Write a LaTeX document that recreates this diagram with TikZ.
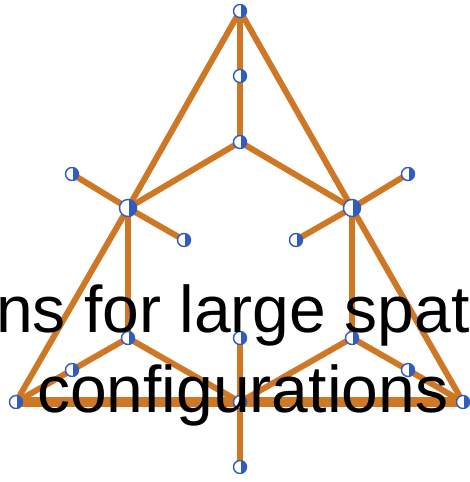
\documentclass[tikz,border=0pt]{standalone}
\usepackage{fontspec}
\setmainfont{Liberation Sans}
\definecolor{edgeor}{RGB}{206,120,38}
\definecolor{nodebl}{RGB}{48,92,190}
\begin{document}
\begin{tikzpicture}[x=1pt,y=-1pt,
  edge/.style={draw=edgeor,line width=6pt},
  base/.style={draw=edgeor,line width=10pt},
  vtx/.style={circle,draw=nodebl,line width=1.4pt,fill=white,inner sep=0pt,minimum size=13pt,
    path picture={\fill[nodebl] ([xshift=1.2pt]path picture bounding box.north) rectangle (path picture bounding box.south east);}},
  hub/.style={vtx,minimum size=17pt},
  lbl/.style={font=\fontsize{66}{79}\selectfont,inner sep=0pt,anchor=base west,text=black}]
\useasboundingbox (0,0) rectangle (470,482);
\clip (0,0) rectangle (470,482);
% node coordinates
\coordinate (top) at (240,11);
\coordinate (tm) at (240,76);
\coordinate (tc) at (240,142);
\coordinate (lh) at (128,208);
\coordinate (rh) at (352,208);
\coordinate (lo) at (72,174);
\coordinate (li) at (184,240);
\coordinate (ro) at (408,174);
\coordinate (ri) at (296,240);
\coordinate (ll) at (128,338);
\coordinate (cl) at (240,338);
\coordinate (rl) at (352,338);
\coordinate (lm) at (72,370);
\coordinate (rm) at (408,370);
\coordinate (bl) at (16,402);
\coordinate (bc) at (240,402);
\coordinate (br) at (463,402);
\coordinate (bb) at (240,467);
% edges
\draw[base] (bl) -- (bc);
\draw[base] (bc) -- (br);
\draw[edge] (top) -- (lh);
\draw[edge] (lh) -- (bl);
\draw[edge] (top) -- (rh);
\draw[edge] (rh) -- (br);
\draw[edge] (top) -- (tm);
\draw[edge] (tm) -- (tc);
\draw[edge] (tc) -- (lh);
\draw[edge] (tc) -- (rh);
\draw[edge] (lh) -- (lo);
\draw[edge] (lh) -- (li);
\draw[edge] (rh) -- (ro);
\draw[edge] (rh) -- (ri);
\draw[edge] (lh) -- (ll);
\draw[edge] (rh) -- (rl);
\draw[edge] (ll) -- (lm);
\draw[edge] (lm) -- (bl);
\draw[edge] (ll) -- (bc);
\draw[edge] (rl) -- (rm);
\draw[edge] (rm) -- (br);
\draw[edge] (rl) -- (bc);
\draw[edge] (cl) -- (bc);
\draw[edge] (bc) -- (bb);
% vertices
\foreach \p in {top,tm,tc,lo,li,ro,ri,ll,cl,rl,lm,rm,bl,bc,br,bb}
  \node[vtx] (v\p) at (\p) {};
\node[hub] (vlh) at (lh) {};
\node[hub] (vrh) at (rh) {};
% text
\node[lbl] (t1) at (-4,332) {ns for large spat};
\node[lbl] (t2) at (37,412) {configurations};
\end{tikzpicture}
\end{document}
